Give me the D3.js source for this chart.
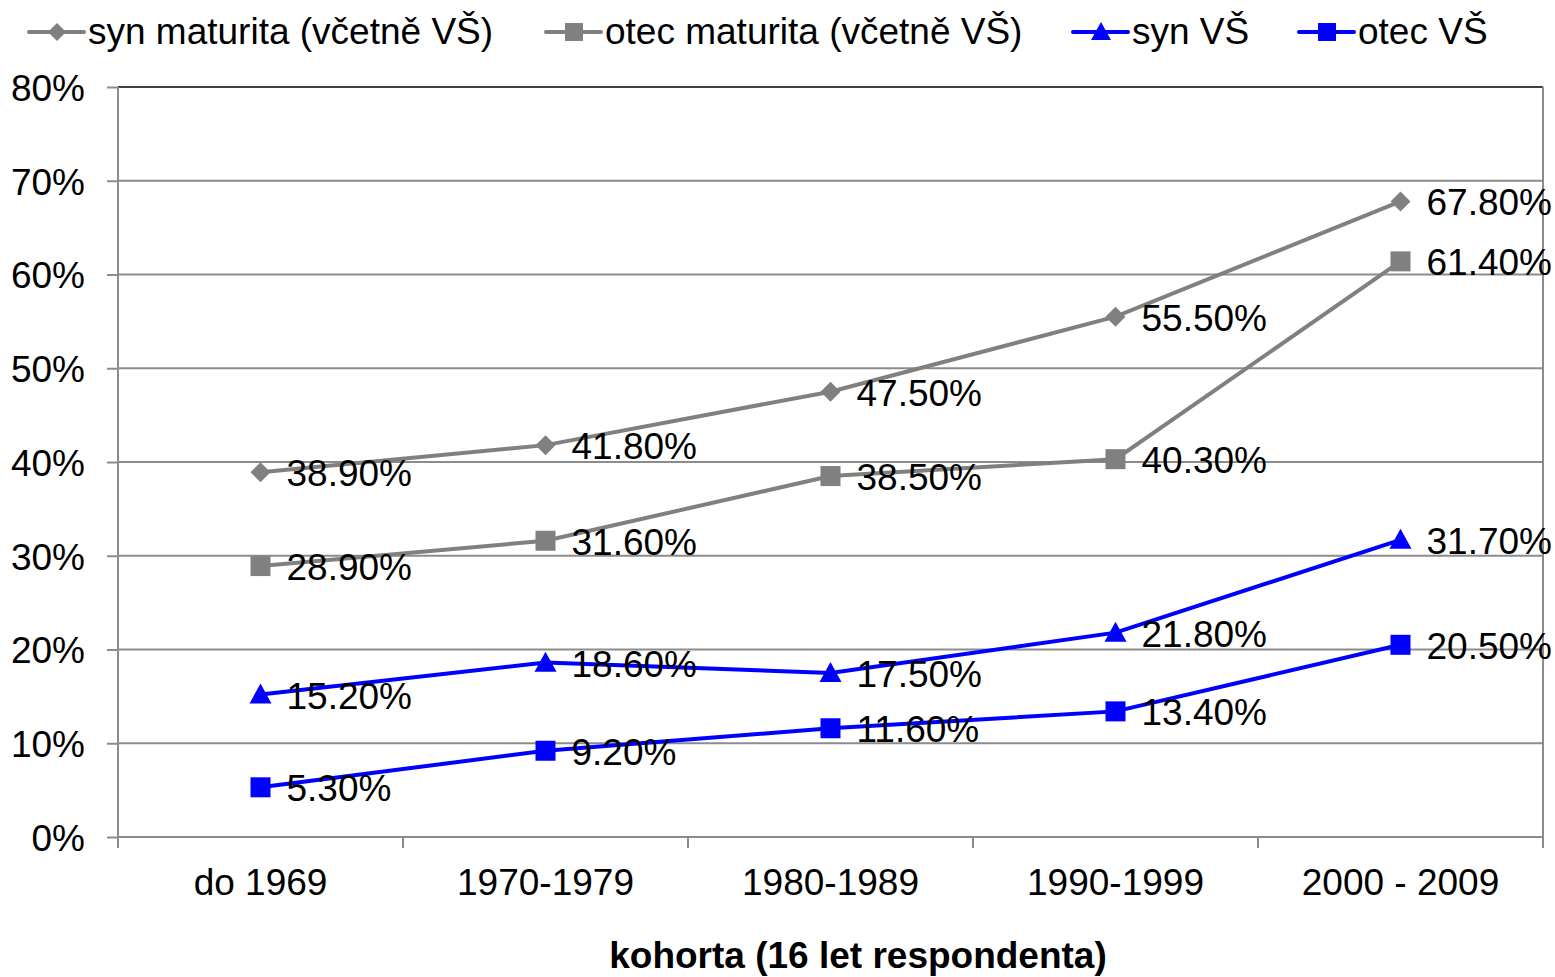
<!DOCTYPE html>
<html>
<head>
<meta charset="utf-8">
<script src="https://cdn.jsdelivr.net/npm/d3@7"></script>
<style>
  body { margin: 0; background: #fff; }
  svg { font-family: "Liberation Sans", Arial, sans-serif; }
</style>
</head>
<body>
<svg id="chart" width="1555" height="977"></svg>
<script>
// data
var categories = ["do 1969", "1970-1979", "1980-1989", "1990-1999", "2000 - 2009"];
var synMaturita = [38.9, 41.8, 47.5, 55.5, 67.8];
var otecMaturita = [28.9, 31.6, 38.5, 40.3, 61.4];
var synVS = [15.2, 18.6, 17.5, 21.8, 31.7];
var otecVS = [5.3, 9.2, 11.6, 13.4, 20.5];
var yTicks = [0, 10, 20, 30, 40, 50, 60, 70, 80];

var series = [
  { name: "syn maturita (včetně VŠ)", values: synMaturita, color: "#808080", symbol: "diamond" },
  { name: "otec maturita (včetně VŠ)", values: otecMaturita, color: "#808080", symbol: "square" },
  { name: "syn VŠ", values: synVS, color: "#0000ff", symbol: "triangle" },
  { name: "otec VŠ", values: otecVS, color: "#0000ff", symbol: "square" }
];

var fontSize = 37;

var margin = { top: 87, right: 12, bottom: 140, left: 118 };
var svg = d3.select("#chart"),
    width = +svg.attr("width") - margin.left - margin.right,
    height = +svg.attr("height") - margin.top - margin.bottom;

var g = svg.append("g")
    .attr("transform", "translate(" + margin.left + "," + margin.top + ")");

var x = d3.scaleBand().domain(categories).range([0, width]);
var y = d3.scaleLinear().domain([0, 80]).range([height, 0]);

// gridlines
g.selectAll(".grid")
    .data(yTicks.slice(1))
    .enter().append("line")
    .attr("x1", 0).attr("x2", width)
    .attr("y1", function(d) { return y(d); })
    .attr("y2", function(d) { return y(d); })
    .attr("stroke", function(d) { return d === 80 ? "#404040" : "#8c8c8c"; })
    .attr("stroke-width", 2);

// right border
g.append("line")
    .attr("x1", width).attr("x2", width)
    .attr("y1", 0).attr("y2", height)
    .attr("stroke", "#8c8c8c").attr("stroke-width", 2);

// y axis
var yAxis = g.append("g")
    .call(d3.axisLeft(y).tickValues(yTicks).tickSize(11).tickPadding(22)
      .tickFormat(function(d) { return d + "%"; }));
yAxis.selectAll("text").attr("font-size", fontSize).attr("fill", "#000").attr("dy", "0.36em");
yAxis.selectAll("line").attr("stroke", "#8c8c8c").attr("stroke-width", 2);
yAxis.select(".domain").attr("stroke", "#8c8c8c").attr("stroke-width", 2).attr("d", "M0," + height + "V0");

// x axis
var xAxis = g.append("g").attr("transform", "translate(0," + height + ")");
xAxis.append("line").attr("x1", 0).attr("x2", width)
    .attr("stroke", "#8c8c8c").attr("stroke-width", 2);
xAxis.selectAll(".tick")
    .data(d3.range(categories.length + 1))
    .enter().append("line")
    .attr("x1", function(i) { return i * x.step(); })
    .attr("x2", function(i) { return i * x.step(); })
    .attr("y1", 0).attr("y2", 11)
    .attr("stroke", "#8c8c8c").attr("stroke-width", 2);
xAxis.selectAll(".lbl")
    .data(categories)
    .enter().append("text")
    .attr("x", function(d) { return x(d) + x.bandwidth() / 2; })
    .attr("y", 58)
    .attr("text-anchor", "middle")
    .attr("font-size", fontSize)
    .text(function(d) { return d; });

// axis title
svg.append("text")
    .attr("x", 858)
    .attr("y", 968)
    .attr("text-anchor", "middle")
    .attr("font-size", fontSize)
    .attr("font-weight", "bold")
    .text("kohorta (16 let respondenta)");

function cx(i) { return x(categories[i]) + x.bandwidth() / 2; }

function drawMarker(sel, symbol, color, s) {
  if (symbol === "diamond") {
    sel.append("path").attr("d", "M0," + (-s) + "L" + s + ",0L0," + s + "L" + (-s) + ",0Z").attr("fill", color);
  } else if (symbol === "square") {
    sel.append("rect").attr("x", -s).attr("y", -s).attr("width", 2 * s).attr("height", 2 * s).attr("fill", color);
  } else {
    sel.append("path").attr("d", "M0," + (-s - 1) + "L" + (s + 1) + "," + (s - 1) + "L" + (-s - 1) + "," + (s - 1) + "Z").attr("fill", color);
  }
}

var line = d3.line()
    .x(function(d, i) { return cx(i); })
    .y(function(d) { return y(d); });

series.forEach(function(s) {
  g.append("path")
      .datum(s.values)
      .attr("fill", "none")
      .attr("stroke", s.color)
      .attr("stroke-width", 4)
      .attr("d", line);

  s.values.forEach(function(v, i) {
    var m = g.append("g").attr("transform", "translate(" + cx(i) + "," + y(v) + ")");
    drawMarker(m, s.symbol, s.color, 10);
  });
});

// labels on top
series.forEach(function(s) {
  g.selectAll(null)
      .data(s.values)
      .enter().append("text")
      .attr("x", function(d, i) { return cx(i) + 26; })
      .attr("y", function(d) { return y(d) + 14; })
      .attr("font-size", fontSize)
      .attr("fill", "#000")
      .text(function(d) { return d.toFixed(2) + "%"; });
});

// legend
var legendX = [29, 546, 1073, 1299];
series.forEach(function(s, i) {
  var lg = svg.append("g").attr("transform", "translate(" + legendX[i] + ",32)");
  lg.append("line").attr("x1", 0).attr("x2", 55)
      .attr("stroke", s.color).attr("stroke-width", 4).attr("stroke-linecap", "round");
  var m = lg.append("g").attr("transform", "translate(28,0)");
  drawMarker(m, s.symbol, s.color, 9);
  lg.append("text").attr("x", 59).attr("y", 12)
      .attr("font-size", fontSize)
      .text(s.name);
});
</script>
</body>
</html>
